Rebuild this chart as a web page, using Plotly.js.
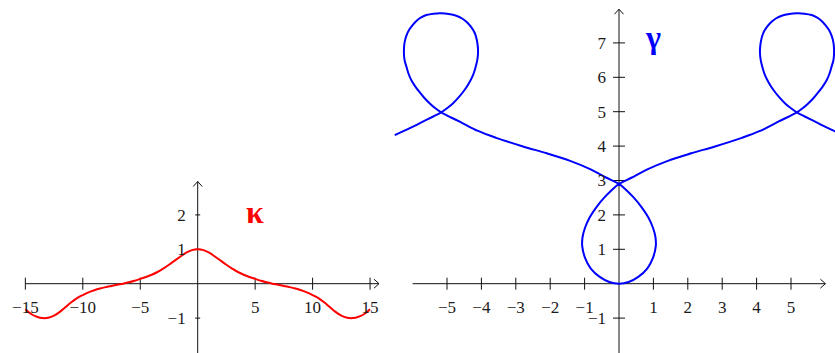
<!DOCTYPE html>
<html>
<head>
<meta charset="utf-8">
<script src="https://cdn.plot.ly/plotly-3.0.1.min.js"></script>
<style>
  html, body { margin: 0; padding: 0; background: #ffffff; }
  #chart { width: 835px; height: 353px; }
</style>
</head>
<body>
<div id="chart"></div>
<script>
// Curvature κ(s) of the curve, sampled along the arc length s
const sValues = [-15, -14.5, -14, -13.5, -13, -12.5, -12, -11.5, -11, -10.5, -10, -9.5, -9, -8.5, -8, -7.5, -7, -6.5, -6, -5.5, -5,
                 -4.5, -4, -3.5, -3, -2.5, -2, -1.5, -1, -0.5, 0,
                 0.5, 1, 1.5, 2, 2.5, 3, 3.5, 4, 4.5, 5,
                 5.5, 6, 6.5, 7, 7.5, 8, 8.5, 9, 9.5, 10, 10.5, 11, 11.5, 12, 12.5, 13, 13.5, 14, 14.5, 15];
const kappaValues = [-0.74, -0.88, -0.96, -1.00, -0.99, -0.93, -0.82, -0.68, -0.54, -0.42, -0.33, -0.25, -0.19, -0.14, -0.10, -0.065, -0.03, 0.00, 0.04, 0.085, 0.14,
                     0.195, 0.26, 0.34, 0.44, 0.55, 0.67, 0.79, 0.90, 0.975, 1.00,
                     0.975, 0.90, 0.79, 0.67, 0.55, 0.44, 0.34, 0.26, 0.195, 0.14,
                     0.085, 0.04, 0.00, -0.03, -0.065, -0.10, -0.14, -0.19, -0.25, -0.33, -0.42, -0.54, -0.68, -0.82, -0.93, -0.99, -1.00, -0.96, -0.88, -0.74];

// The plane curve γ with that curvature, traced from s = -15 to s = 15
const gammaX = [6.52, 6.30, 6.08, 5.84, 5.60, 5.38, 5.17, 5.00, 4.83, 4.65, 4.49, 4.35, 4.24, 4.17, 4.12, 4.10, 4.10, 4.13, 4.19, 4.29, 4.42, 4.56, 4.73, 4.95, 5.17,
                5.39, 5.60, 5.75, 5.89, 6.00, 6.10, 6.18, 6.23, 6.25, 6.25, 6.23, 6.18, 6.12, 6.04, 5.92, 5.79, 5.65, 5.50, 5.34, 5.17,
                4.63, 4.10, 3.57, 2.79, 2.10, 1.42, 0.84, 0.36, 0.00,
                -0.20, -0.43, -0.66, -0.85, -0.99, -1.06, -1.07, -0.99, -0.82, -0.56, -0.28, 0.00,
                0.28, 0.56, 0.82, 0.99, 1.07, 1.06, 0.99, 0.85, 0.66, 0.43, 0.20, 0.00,
                -0.36, -0.84, -1.42, -2.10, -2.79, -3.57, -4.10, -4.63, -5.17,
                -5.34, -5.50, -5.65, -5.79, -5.92, -6.04, -6.12, -6.18, -6.23, -6.25, -6.25, -6.23, -6.18, -6.10, -6.00, -5.89, -5.75, -5.60, -5.39, -5.17,
                -4.95, -4.73, -4.56, -4.42, -4.29, -4.19, -4.13, -4.10, -4.10, -4.12, -4.17, -4.24, -4.35, -4.49, -4.65, -4.83, -5.00, -5.17, -5.38, -5.60, -5.84, -6.08, -6.30, -6.52];
const gammaY = [4.32, 4.42, 4.52, 4.64, 4.76, 4.87, 4.98, 5.10, 5.24, 5.43, 5.63, 5.85, 6.07, 6.29, 6.50, 6.67, 6.84, 7.07, 7.28, 7.45, 7.60, 7.71, 7.79, 7.84, 7.86,
                7.85, 7.81, 7.74, 7.64, 7.52, 7.38, 7.21, 7.03, 6.85, 6.65, 6.48, 6.31, 6.11, 5.92, 5.73, 5.56, 5.39, 5.24, 5.10, 4.98,
                4.71, 4.44, 4.24, 3.99, 3.79, 3.57, 3.33, 3.08, 2.90,
                2.73, 2.50, 2.22, 1.93, 1.62, 1.35, 1.10, 0.76, 0.44, 0.20, 0.05, 0.00,
                0.05, 0.20, 0.44, 0.76, 1.10, 1.35, 1.62, 1.93, 2.22, 2.50, 2.73, 2.90,
                3.08, 3.33, 3.57, 3.79, 3.99, 4.24, 4.44, 4.71, 4.98,
                5.10, 5.24, 5.39, 5.56, 5.73, 5.92, 6.11, 6.31, 6.48, 6.65, 6.85, 7.03, 7.21, 7.38, 7.52, 7.64, 7.74, 7.81, 7.85, 7.86,
                7.84, 7.79, 7.71, 7.60, 7.45, 7.28, 7.07, 6.84, 6.67, 6.50, 6.29, 6.07, 5.85, 5.63, 5.43, 5.24, 5.10, 4.98, 4.87, 4.76, 4.64, 4.52, 4.42, 4.32];

// Tick positions and labels
const kappaXTicks = [-15, -10, -5, 5, 10, 15];
const kappaXLabels = ['\u221215', '\u221210', '\u22125', '5', '10', '15'];
const kappaYTicks = [-1, 1, 2];
const kappaYLabels = ['\u22121', '1', '2'];
const gammaXTicks = [-5, -4, -3, -2, -1, 1, 2, 3, 4, 5];
const gammaXLabels = ['\u22125', '\u22124', '\u22123', '\u22122', '\u22121', '1', '2', '3', '4', '5'];
const gammaYTicks = [-1, 1, 2, 3, 4, 5, 6, 7];
const gammaYLabels = ['\u22121', '1', '2', '3', '4', '5', '6', '7'];

// Page geometry (pixels): both panels share the baseline; κ panel squeezes s by 1/3
const W = 835, H = 353;
const split = 390;
const baseY = 283.7;           // pixel row of the value 0
const unit = 34.4;             // pixels per unit on the vertical axes and on γ's x axis
const kOrigin = 197.7, kUnit = 11.49;
const gOrigin = 619;

const yRange = [-(H - baseY) / unit, baseY / unit];
const kxRange = [-kOrigin / kUnit, (split - kOrigin) / kUnit];
const gxRange = [(split - gOrigin) / unit, (W - gOrigin) / unit];

const FONT = 'Liberation Serif';
const AXC = '#111111';
const tickFont = { family: FONT, size: 17, color: '#1a1a1a' };

function xAxisDef(domain, range, vals, text, yFrac) {
  return {
    domain: domain, range: range, anchor: 'free', position: yFrac,
    showline: false, showgrid: false, zeroline: false, ticks: '',
    tickmode: 'array', tickvals: vals, ticktext: text, tickfont: tickFont,
    ticklabelstandoff: 11, fixedrange: true
  };
}
function yAxisDef(range, vals, text, xFrac, standoff) {
  return {
    domain: [0, 1], range: range, anchor: 'free', position: xFrac,
    showline: false, showgrid: false, zeroline: false, ticks: '',
    tickmode: 'array', tickvals: vals, ticktext: text, tickfont: tickFont,
    ticklabelstandoff: standoff, fixedrange: true
  };
}

const shapes = [];
function axisLine(xref, yref, x0, y0, x1, y1) {
  shapes.push({ type: 'line', xref: xref, yref: yref, x0: x0, y0: y0, x1: x1, y1: y1,
                line: { color: AXC, width: 1 }, layer: 'below' });
}
function arrowHead(xref, yref, x, y, path) {
  shapes.push({ type: 'path', xref: xref, yref: yref, xsizemode: 'pixel', ysizemode: 'pixel',
                xanchor: x, yanchor: y, path: path, line: { color: AXC, width: 1 }, layer: 'below' });
}
function xTicks(xref, yref, vals, half) {
  vals.forEach(v => shapes.push({ type: 'line', xref: xref, yref: yref, ysizemode: 'pixel', yanchor: 0,
    x0: v, x1: v, y0: -half, y1: half, line: { color: AXC, width: 1 }, layer: 'below' }));
}
function yTicks(xref, yref, vals, half) {
  vals.forEach(v => shapes.push({ type: 'line', xref: xref, yref: yref, xsizemode: 'pixel', xanchor: 0,
    x0: -half, x1: half, y0: v, y1: v, line: { color: AXC, width: 1 }, layer: 'below' }));
}

const RIGHT_ARROW = 'M-5,4.5 L0,0 L-5,-4.5';
const UP_ARROW = 'M-4.5,-5 L0,0 L4.5,-5';

// κ panel axes
axisLine('x', 'y', -15, 0, 15.78, 0);
arrowHead('x', 'y', 15.78, 0, RIGHT_ARROW);
axisLine('x', 'y', 0, yRange[0] - 0.1, 0, 2.97);
arrowHead('x', 'y', 0, 2.97, UP_ARROW);
xTicks('x', 'y', kappaXTicks, 6);
yTicks('x', 'y', kappaYTicks, 2.5);

// γ panel axes
axisLine('x2', 'y2', -6.0, 0, 6.0, 0);
arrowHead('x2', 'y2', 6.0, 0, RIGHT_ARROW);
axisLine('x2', 'y2', 0, yRange[0] - 0.1, 0, 7.98);
arrowHead('x2', 'y2', 0, 7.98, UP_ARROW);
xTicks('x2', 'y2', gammaXTicks, 6);
yTicks('x2', 'y2', gammaYTicks, 6);

const traces = [
  { x: sValues, y: kappaValues, xaxis: 'x', yaxis: 'y', type: 'scatter', mode: 'lines',
    line: { color: '#ff0000', width: 2, shape: 'spline', smoothing: 1 }, hoverinfo: 'skip' },
  { x: gammaX, y: gammaY, xaxis: 'x2', yaxis: 'y2', type: 'scatter', mode: 'lines',
    line: { color: '#0000ff', width: 2, shape: 'spline', smoothing: 1 }, hoverinfo: 'skip' }
];

const baseFrac = 1 - baseY / H;
const greekFont = (c) => ({ family: 'Liberation Serif', size: 32, color: c, weight: 'bold' });
const layout = {
  width: W, height: H,
  margin: { l: 0, r: 0, t: 0, b: 0, pad: 0 },
  paper_bgcolor: '#ffffff', plot_bgcolor: 'rgba(0,0,0,0)',
  showlegend: false,
  xaxis: xAxisDef([0, split / W], kxRange, kappaXTicks, kappaXLabels, baseFrac),
  yaxis: yAxisDef(yRange, kappaYTicks, kappaYLabels, kOrigin / W, 12),
  xaxis2: xAxisDef([split / W, 1], gxRange, gammaXTicks, gammaXLabels, baseFrac),
  yaxis2: yAxisDef(yRange, gammaYTicks, gammaYLabels, gOrigin / W, 13),
  shapes: shapes,
  annotations: [
    { xref: 'x', yref: 'y', x: 5, y: 2, text: '\u03ba', showarrow: false, yshift: 3,
      font: greekFont('#ff0000') },
    { xref: 'x2', yref: 'y2', x: 1, y: 7, text: '\u03b3', showarrow: false, yshift: 6,
      font: greekFont('#0000ff') }
  ]
};

Plotly.newPlot('chart', traces, layout, { staticPlot: true, displayModeBar: false });
</script>
</body>
</html>
